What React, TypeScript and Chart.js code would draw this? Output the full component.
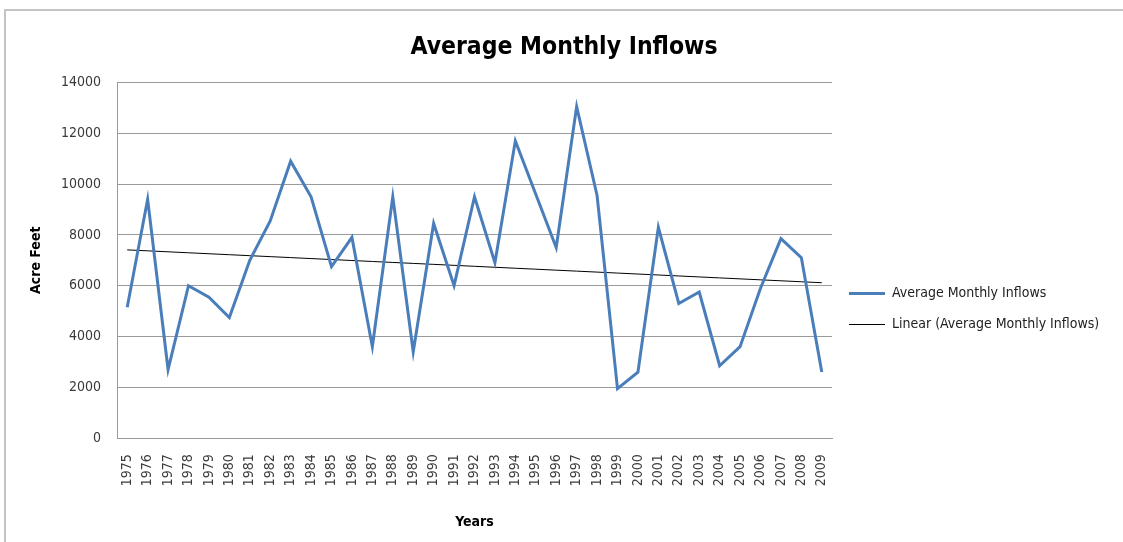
import React, { useEffect, useRef } from "react";
import { Chart, registerables } from "chart.js";

Chart.register(...registerables);

// Water years on the category axis
const years = [
  "1975", "1976", "1977", "1978", "1979", "1980", "1981", "1982", "1983", "1984",
  "1985", "1986", "1987", "1988", "1989", "1990", "1991", "1992", "1993", "1994",
  "1995", "1996", "1997", "1998", "1999", "2000", "2001", "2002", "2003", "2004",
  "2005", "2006", "2007", "2008", "2009",
];

// Average monthly inflow for each year, in acre feet
const inflows = [
  5150, 9400, 2700, 6000, 5550, 4750, 7000, 8550, 10900, 9500,
  6750, 7900, 3600, 9500, 3400, 8450, 6000, 9500, 6900, 11700,
  9600, 7500, 13050, 9550, 1950, 2600, 8300, 5300, 5750, 2850,
  3600, 5900, 7850, 7100, 2600,
];

// Value axis range
const yMin = 0;
const yMax = 14000;
const yStep = 2000;

// Least-squares linear trend of the inflow series
function linearTrend(values: number[]): number[] {
  const n = values.length;
  let sx = 0, sy = 0, sxx = 0, sxy = 0;
  values.forEach((v, i) => {
    sx += i; sy += v; sxx += i * i; sxy += i * v;
  });
  const slope = (n * sxy - sx * sy) / (n * sxx - sx * sx);
  const intercept = (sy - slope * sx) / n;
  return values.map((_, i) => intercept + slope * i);
}

const FONT = "'DejaVu Sans Condensed', 'Noto Sans', sans-serif";

// White page with the light gray frame along the top and left edges
const framePlugin = {
  id: "frame",
  beforeDraw(chart: Chart) {
    const { ctx, width, height } = chart;
    ctx.save();
    ctx.fillStyle = "#ffffff";
    ctx.fillRect(0, 0, width, height);
    ctx.strokeStyle = "#c4c4c4";
    ctx.lineWidth = 2;
    ctx.beginPath();
    ctx.moveTo(5, height);
    ctx.lineTo(5, 10);
    ctx.lineTo(width, 10);
    ctx.stroke();
    ctx.restore();
  },
};

export default function App() {
  const canvasRef = useRef<HTMLCanvasElement | null>(null);

  useEffect(() => {
    document.body.style.margin = "0";
    const canvas = canvasRef.current;
    if (!canvas) return;

    const chart = new Chart(canvas, {
      type: "line",
      data: {
        labels: years,
        datasets: [
          {
            label: "Average Monthly Inflows",
            data: inflows,
            borderColor: "#4a7ebb",
            backgroundColor: "#4a7ebb",
            borderWidth: 3,
            pointRadius: 0,
            tension: 0,
          },
          {
            label: "Linear (Average Monthly Inflows)",
            data: linearTrend(inflows),
            borderColor: "#000000",
            backgroundColor: "#000000",
            borderWidth: 1,
            pointRadius: 0,
            tension: 0,
          },
        ],
      },
      options: {
        responsive: false,
        animation: false,
        layout: { padding: { left: 28, right: 23, top: 33, bottom: 11 } },
        plugins: {
          title: {
            display: true,
            text: "Average Monthly Inflows",
            color: "#000000",
            font: { family: FONT, size: 24.5, weight: "bold" },
            padding: { top: 0, bottom: 20 },
          },
          legend: {
            position: "right",
            align: "center",
            title: {
              display: true,
              text: " ",
              font: { size: 10 },
              padding: { top: 42, bottom: 0 },
            },
            labels: {
              usePointStyle: true,
              pointStyle: "line",
              pointStyleWidth: 36,
              color: "#222222",
              font: { family: FONT, size: 14 },
              padding: 17,
            },
          },
          tooltip: { enabled: false },
        },
        scales: {
          x: {
            offset: true,
            grid: { display: false, drawTicks: false },
            border: { display: true, color: "#9a9a9a", width: 1 },
            ticks: {
              minRotation: 90,
              maxRotation: 90,
              autoSkip: false,
              padding: 16,
              color: "#3a3a3a",
              font: { family: FONT, size: 14 },
            },
            title: {
              display: true,
              text: "Years",
              color: "#000000",
              font: { family: FONT, size: 14, weight: "bold" },
              padding: { top: 12, bottom: 0 },
            },
          },
          y: {
            min: yMin,
            max: yMax,
            ticks: {
              stepSize: yStep,
              padding: 16,
              color: "#3a3a3a",
              font: { family: FONT, size: 14 },
              callback: (value: any) => String(value),
            },
            grid: { color: "#9a9a9a", lineWidth: 1, drawTicks: false },
            border: { display: true, color: "#9a9a9a", width: 1 },
            title: {
              display: true,
              text: "Acre Feet",
              color: "#000000",
              font: { family: FONT, size: 14, weight: "bold" },
              padding: { top: 0, bottom: 10 },
            },
            afterFit(scale: any) {
              scale.width = 89;
            },
          },
        },
      },
      plugins: [framePlugin],
    });

    return () => chart.destroy();
  }, []);

  return (
    <div style={{ width: 1123, height: 542 }}>
      <canvas ref={canvasRef} width={1123} height={542} style={{ display: "block" }} />
    </div>
  );
}
